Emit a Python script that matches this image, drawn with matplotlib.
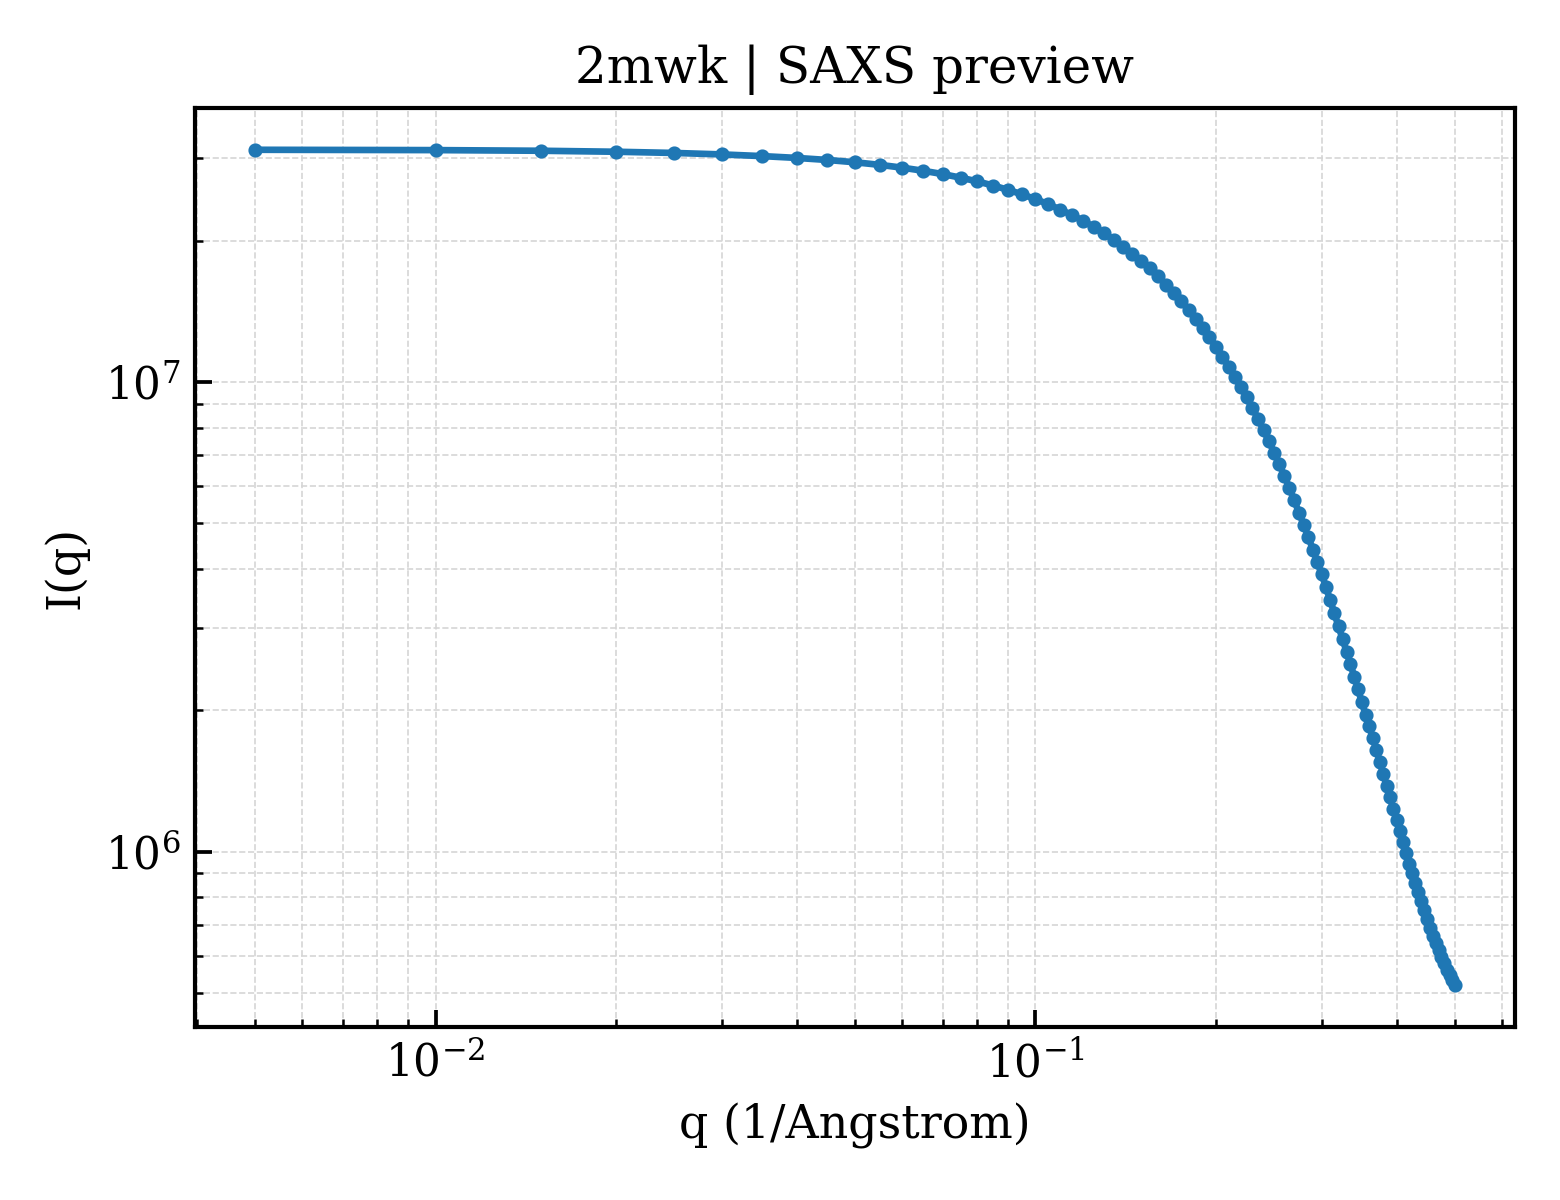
import matplotlib
matplotlib.use("Agg")
import matplotlib.pyplot as plt

plt.rcParams["font.family"] = "DejaVu Serif"
plt.rcParams["mathtext.fontset"] = "dejavuserif"

title = "2mwk | SAXS preview"
xlabel = "q (1/Angstrom)"
ylabel = "I(q)"

q = [0.005, 0.010, 0.015, 0.020, 0.025, 0.030, 0.035, 0.040, 0.045, 0.050,
     0.055, 0.060, 0.065, 0.070, 0.075, 0.080, 0.085, 0.090, 0.095, 0.100,
     0.105, 0.110, 0.115, 0.120, 0.125, 0.130, 0.135, 0.140, 0.145, 0.150,
     0.155, 0.160, 0.165, 0.170, 0.175, 0.180, 0.185, 0.190, 0.195, 0.200,
     0.205, 0.210, 0.215, 0.220, 0.225, 0.230, 0.235, 0.240, 0.245, 0.250,
     0.255, 0.260, 0.265, 0.270, 0.275, 0.280, 0.285, 0.290, 0.295, 0.300,
     0.305, 0.310, 0.315, 0.320, 0.325, 0.330, 0.335, 0.340, 0.345, 0.350,
     0.355, 0.360, 0.365, 0.370, 0.375, 0.380, 0.385, 0.390, 0.395, 0.400,
     0.405, 0.410, 0.415, 0.420, 0.425, 0.430, 0.435, 0.440, 0.445, 0.450,
     0.455, 0.460, 0.465, 0.470, 0.475, 0.480, 0.485, 0.490, 0.495, 0.500]

intensity = [3.120e7, 3.115e7, 3.105e7, 3.090e7, 3.072e7, 3.050e7, 3.025e7, 2.998e7, 2.968e7, 2.935e7,
             2.898e7, 2.858e7, 2.815e7, 2.770e7, 2.722e7, 2.672e7, 2.619e7, 2.564e7, 2.508e7, 2.450e7,
             2.390e7, 2.328e7, 2.266e7, 2.203e7, 2.139e7, 2.074e7, 2.008e7, 1.942e7, 1.876e7, 1.810e7,
             1.744e7, 1.678e7, 1.612e7, 1.547e7, 1.484e7, 1.423e7, 1.362e7, 1.303e7, 1.245e7, 1.188e7,
             1.132e7, 1.078e7, 1.026e7, 9.76e6, 9.27e6, 8.80e6, 8.35e6, 7.91e6, 7.48e6, 7.07e6,
             6.68e6, 6.31e6, 5.95e6, 5.60e6, 5.27e6, 4.97e6, 4.68e6, 4.40e6, 4.14e6, 3.90e6,
             3.66e6, 3.43e6, 3.22e6, 3.02e6, 2.84e6, 2.67e6, 2.51e6, 2.36e6, 2.22e6, 2.08e6,
             1.96e6, 1.85e6, 1.75e6, 1.65e6, 1.555e6, 1.465e6, 1.383e6, 1.306e6, 1.235e6, 1.168e6,
             1.106e6, 1.048e6, 9.94e5, 9.45e5, 9.01e5, 8.60e5, 8.22e5, 7.86e5, 7.52e5, 7.19e5,
             6.89e5, 6.62e5, 6.40e5, 6.19e5, 5.98e5, 5.79e5, 5.62e5, 5.47e5, 5.33e5, 5.20e5]

fig = plt.figure(figsize=(5.2, 4.0), dpi=300)
ax = fig.add_axes([0.125, 0.144, 0.846, 0.766])

ax.plot(q, intensity, color="#1f77b4", lw=1.6, marker="o", ms=2.4)
ax.set_xscale("log")
ax.set_yscale("log")

ax.set_title(title, fontsize=12)
ax.set_xlabel(xlabel, fontsize=11)
ax.set_ylabel(ylabel, fontsize=11)

ax.grid(True, which="both", ls="--", lw=0.4, color="#d5d5d5")
ax.tick_params(which="both", direction="in", labelsize=10.5)
ax.tick_params(which="major", length=4, width=0.9)
ax.tick_params(which="minor", length=2, width=0.6)
for s in ax.spines.values():
    s.set_linewidth(1.0)

fig.savefig("out.png", dpi=300)
